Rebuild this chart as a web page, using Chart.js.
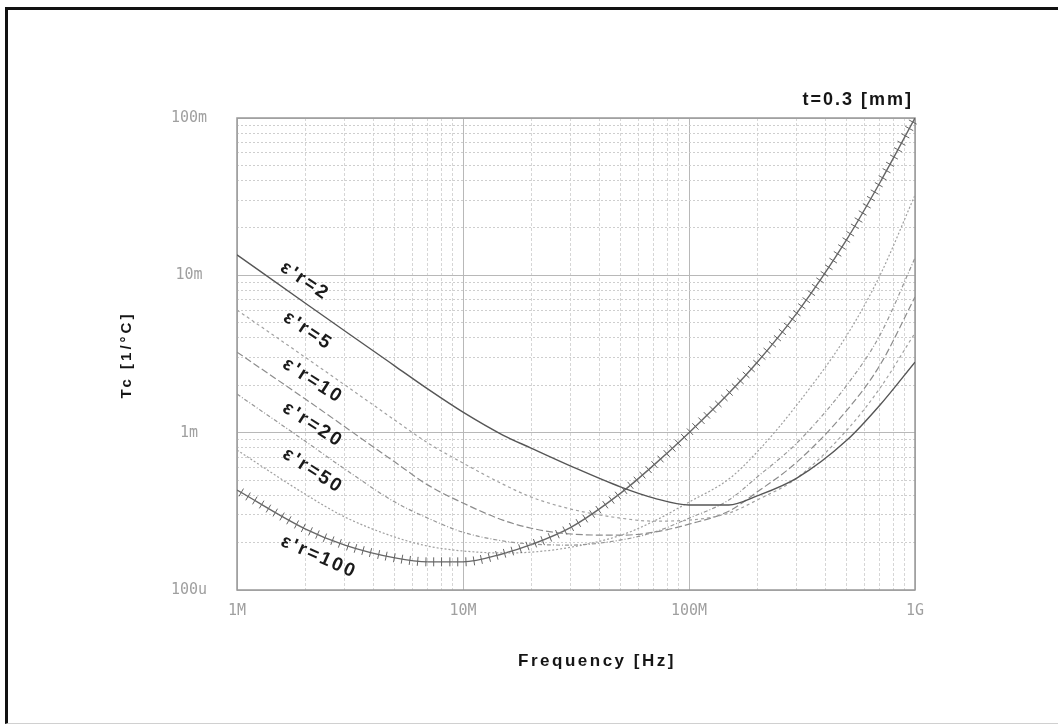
<!DOCTYPE html>
<html>
<head>
<meta charset="utf-8">
<script src="https://cdn.jsdelivr.net/npm/chart.js@4.4.1/dist/chart.umd.min.js"></script>
<style>
  html, body { margin: 0; padding: 0; background: #ffffff; }
  #wrap { position: relative; width: 1058px; height: 725px; overflow: hidden; }
  #frame { position: absolute; left: 5px; top: 7px; width: 1060px; height: 713px;
           border-left: 3px solid #111; border-top: 3px solid #111;
           border-bottom: 1px solid #d0d0d0; pointer-events: none; }
  canvas { position: absolute; left: 0; top: 0; }
</style>
</head>
<body>
<div id="wrap">
  <canvas id="chart" width="1058" height="725"></canvas>
  <div id="frame"></div>
</div>
<script>
// ---- data ----
const frequencyHz = [1e6, 2e6, 3e6, 5e6, 7e6, 1e7, 1.5e7, 2e7, 3e7, 5e7, 7e7, 1e8, 1.5e8, 2e8, 3e8, 5e8, 7e8, 1e9];

const seriesNames = ["ε'r=2", "ε'r=5", "ε'r=10", "ε'r=20", "ε'r=50", "ε'r=100"];

const tcEr2   = [1.35e-2, 6.67e-3, 4.43e-3, 2.65e-3, 1.89e-3, 1.35e-3, 9.66e-4, 7.98e-4, 6.13e-4, 4.51e-4, 3.84e-4, 3.47e-4, 3.47e-4, 3.96e-4, 5.14e-4, 8.97e-4, 1.50e-3, 2.81e-3];
const tcEr5   = [6.02e-3, 3.02e-3, 2.01e-3, 1.20e-3, 8.59e-4, 6.41e-4, 4.71e-4, 3.90e-4, 3.27e-4, 2.86e-4, 2.74e-4, 2.78e-4, 3.08e-4, 3.73e-4, 5.14e-4, 1.04e-3, 1.92e-3, 4.30e-3];
const tcEr10  = [3.25e-3, 1.64e-3, 1.09e-3, 6.50e-4, 4.64e-4, 3.57e-4, 2.78e-4, 2.47e-4, 2.27e-4, 2.23e-4, 2.33e-4, 2.62e-4, 3.17e-4, 4.19e-4, 6.50e-4, 1.39e-3, 2.69e-3, 7.28e-3];
const tcEr20  = [1.76e-3, 8.84e-4, 5.87e-4, 3.62e-4, 2.86e-4, 2.33e-4, 2.05e-4, 1.96e-4, 1.93e-4, 2.08e-4, 2.33e-4, 2.86e-4, 3.73e-4, 5.22e-4, 8.59e-4, 2.01e-3, 4.17e-3, 1.29e-2];
const tcEr50  = [7.75e-4, 4.07e-4, 2.91e-4, 2.17e-4, 1.90e-4, 1.77e-4, 1.72e-4, 1.74e-4, 1.87e-4, 2.23e-4, 2.74e-4, 3.62e-4, 5.07e-4, 7.53e-4, 1.50e-3, 4.17e-3, 1.00e-2, 3.24e-2];
const tcEr100 = [4.32e-4, 2.45e-4, 1.93e-4, 1.60e-4, 1.51e-4, 1.51e-4, 1.70e-4, 1.94e-4, 2.50e-4, 4.14e-4, 6.24e-4, 1.00e-3, 1.78e-3, 2.79e-3, 5.75e-3, 1.70e-2, 3.89e-2, 1.00e-1];

const xTickValues = [1e6, 1e7, 1e8, 1e9];
const xTickLabels = ['1M', '10M', '100M', '1G'];
const yTickValues = [1e-4, 1e-3, 1e-2, 1e-1];
const yTickLabels = ['100u', '1m', '10m', '100m'];

const xTitle = 'Frequency [Hz]';
const yTitle = 'Tc [1/°C]';
const noteText = 't=0.3 [mm]';

// ---- styles ----
const seriesValues = [tcEr2, tcEr5, tcEr10, tcEr20, tcEr50, tcEr100];
const seriesStyles = [
  { color: '#565656', width: 1.4, dash: [] },
  { color: '#a2a2a2', width: 1.2, dash: [3, 3] },
  { color: '#8c8c8c', width: 1.2, dash: [7, 3] },
  { color: '#979797', width: 1.2, dash: [4, 2, 1, 2] },
  { color: '#a0a0a0', width: 1.2, dash: [2, 2] },
  { color: '#666666', width: 1.4, dash: [] }
];
const HATCHED_INDEX = 5;

// curve label placement (pixels, rotation in degrees)
const curveLabelPos = [
  { x: 305, y: 281, rot: 34 },
  { x: 308, y: 331, rot: 34 },
  { x: 313, y: 381, rot: 33 },
  { x: 313, y: 425, rot: 33 },
  { x: 313, y: 471, rot: 33 },
  { x: 319, y: 557, rot: 24 }
];

function decadeGrid(decades) {
  const out = [];
  for (let i = 0; i < decades.length - 1; i++) {
    for (let k = 1; k <= 9; k++) out.push(k * decades[i]);
  }
  out.push(decades[decades.length - 1]);
  return out;
}
function isDecade(v) {
  const l = Math.log10(v);
  return Math.abs(l - Math.round(l)) < 1e-6;
}
function labelFor(v, vals, labs) {
  for (let i = 0; i < vals.length; i++) {
    if (Math.abs(v / vals[i] - 1) < 1e-6) return labs[i];
  }
  return '';
}

const datasets = seriesValues.map((vals, i) => ({
  label: seriesNames[i],
  data: frequencyHz.map((f, j) => ({ x: f, y: vals[j] })),
  borderColor: seriesStyles[i].color,
  borderWidth: seriesStyles[i].width,
  borderDash: seriesStyles[i].dash,
  cubicInterpolationMode: 'monotone',
  tension: 0.4,
  pointRadius: 0,
  fill: false
}));

const framePlugin = {
  id: 'frameAndText',
  beforeDatasetsDraw(chart) {
    const { ctx, chartArea: a } = chart;
    ctx.save();
    ctx.strokeStyle = '#999999';
    ctx.lineWidth = 1.5;
    ctx.strokeRect(a.left, a.top, a.right - a.left, a.bottom - a.top);
    ctx.restore();
  },
  afterDatasetsDraw(chart) {
    const { ctx, chartArea: a } = chart;
    // perpendicular hatch marks along the eps=100 curve
    const meta = chart.getDatasetMeta(HATCHED_INDEX);
    const pts = meta.data;
    ctx.save();
    ctx.beginPath();
    ctx.rect(a.left, a.top - 2, a.right - a.left + 2, a.bottom - a.top + 2);
    ctx.clip();
    ctx.strokeStyle = '#666666';
    ctx.lineWidth = 1;
    const spacing = 8, half = 4.5;
    let acc = spacing / 2;
    let prev = null;
    for (let i = 0; i < pts.length - 1; i++) {
      const p0 = pts[i], p1 = pts[i + 1];
      const c1x = (p0.cp2x !== undefined) ? p0.cp2x : p0.x;
      const c1y = (p0.cp2y !== undefined) ? p0.cp2y : p0.y;
      const c2x = (p1.cp1x !== undefined) ? p1.cp1x : p1.x;
      const c2y = (p1.cp1y !== undefined) ? p1.cp1y : p1.y;
      const N = 80;
      for (let k = (i === 0 ? 0 : 1); k <= N; k++) {
        const t = k / N, u = 1 - t;
        const x = u*u*u*p0.x + 3*u*u*t*c1x + 3*u*t*t*c2x + t*t*t*p1.x;
        const y = u*u*u*p0.y + 3*u*u*t*c1y + 3*u*t*t*c2y + t*t*t*p1.y;
        if (prev) {
          const dx = x - prev.x, dy = y - prev.y, d = Math.hypot(dx, dy);
          acc += d;
          if (acc >= spacing && d > 0) {
            acc -= spacing;
            const nx = -dy / d, ny = dx / d;
            ctx.beginPath();
            ctx.moveTo(x - nx * half, y - ny * half);
            ctx.lineTo(x + nx * half, y + ny * half);
            ctx.stroke();
          }
        }
        prev = { x, y };
      }
    }
    ctx.restore();
  },
  afterDraw(chart) {
    const { ctx } = chart;
    // curve labels
    ctx.save();
    ctx.fillStyle = '#1a1a1a';
    ctx.font = 'bold 19px "Liberation Sans", Arial, sans-serif';
    ctx.letterSpacing = '2.5px';
    ctx.textAlign = 'center';
    ctx.textBaseline = 'middle';
    curveLabelPos.forEach((p, i) => {
      ctx.save();
      ctx.translate(p.x, p.y);
      ctx.rotate(p.rot * Math.PI / 180);
      ctx.fillText(seriesNames[i], 0, 0);
      ctx.restore();
    });
    ctx.restore();

    // axis titles and note
    ctx.save();
    ctx.fillStyle = '#151515';
    ctx.textBaseline = 'middle';
    ctx.font = 'bold 17px "Liberation Sans", Arial, sans-serif';
    ctx.letterSpacing = '2.5px';
    ctx.textAlign = 'center';
    ctx.fillText(xTitle, 597, 661);

    ctx.font = 'bold 18px "Liberation Sans", Arial, sans-serif';
    ctx.letterSpacing = '2px';
    ctx.textAlign = 'right';
    ctx.fillText(noteText, 913, 100);

    ctx.font = 'bold 15px "Liberation Sans", Arial, sans-serif';
    ctx.letterSpacing = '3px';
    ctx.textAlign = 'center';
    ctx.translate(127, 355);
    ctx.rotate(-Math.PI / 2);
    ctx.fillText(yTitle, 0, 0);
    ctx.restore();
  }
};

new Chart(document.getElementById('chart'), {
  type: 'line',
  data: { datasets },
  options: {
    responsive: false,
    animation: false,
    events: [],
    layout: { padding: { top: 118, right: 143, bottom: 0, left: 0 } },
    plugins: { legend: { display: false }, tooltip: { enabled: false }, title: { display: false } },
    scales: {
      x: {
        type: 'logarithmic',
        min: xTickValues[0],
        max: xTickValues[xTickValues.length - 1],
        afterBuildTicks(scale) { scale.ticks = decadeGrid(xTickValues).map(v => ({ value: v, major: isDecade(v) })); },
        afterFit(scale) { scale.height = 135; },
        grid: {
          drawTicks: false,
          lineWidth: 1,
          color: c => (c.tick && isDecade(c.tick.value)) ? '#b8b8b8' : '#d6d6d6'
        },
        border: { display: false, dash: c => (c.tick && isDecade(c.tick.value)) ? [] : [3, 2] },
        ticks: {
          autoSkip: false,
          maxRotation: 0,
          padding: 12,
          color: '#a0a0a0',
          font: { family: '"DejaVu Sans Mono", monospace', size: 15 },
          callback: v => labelFor(v, xTickValues, xTickLabels)
        }
      },
      y: {
        type: 'logarithmic',
        min: yTickValues[0],
        max: yTickValues[yTickValues.length - 1],
        afterBuildTicks(scale) { scale.ticks = decadeGrid(yTickValues).map(v => ({ value: v, major: isDecade(v) })); },
        afterFit(scale) { scale.width = 237; },
        grid: {
          drawTicks: false,
          lineWidth: 1,
          color: c => (c.tick && isDecade(c.tick.value)) ? '#b8b8b8' : '#cecece'
        },
        border: { display: false, dash: c => (c.tick && isDecade(c.tick.value)) ? [] : [2, 2] },
        ticks: {
          autoSkip: false,
          crossAlign: 'center',
          padding: 30,
          color: '#a0a0a0',
          font: { family: '"DejaVu Sans Mono", monospace', size: 15 },
          callback: v => labelFor(v, yTickValues, yTickLabels)
        }
      }
    }
  },
  plugins: [framePlugin]
});
</script>
</body>
</html>
